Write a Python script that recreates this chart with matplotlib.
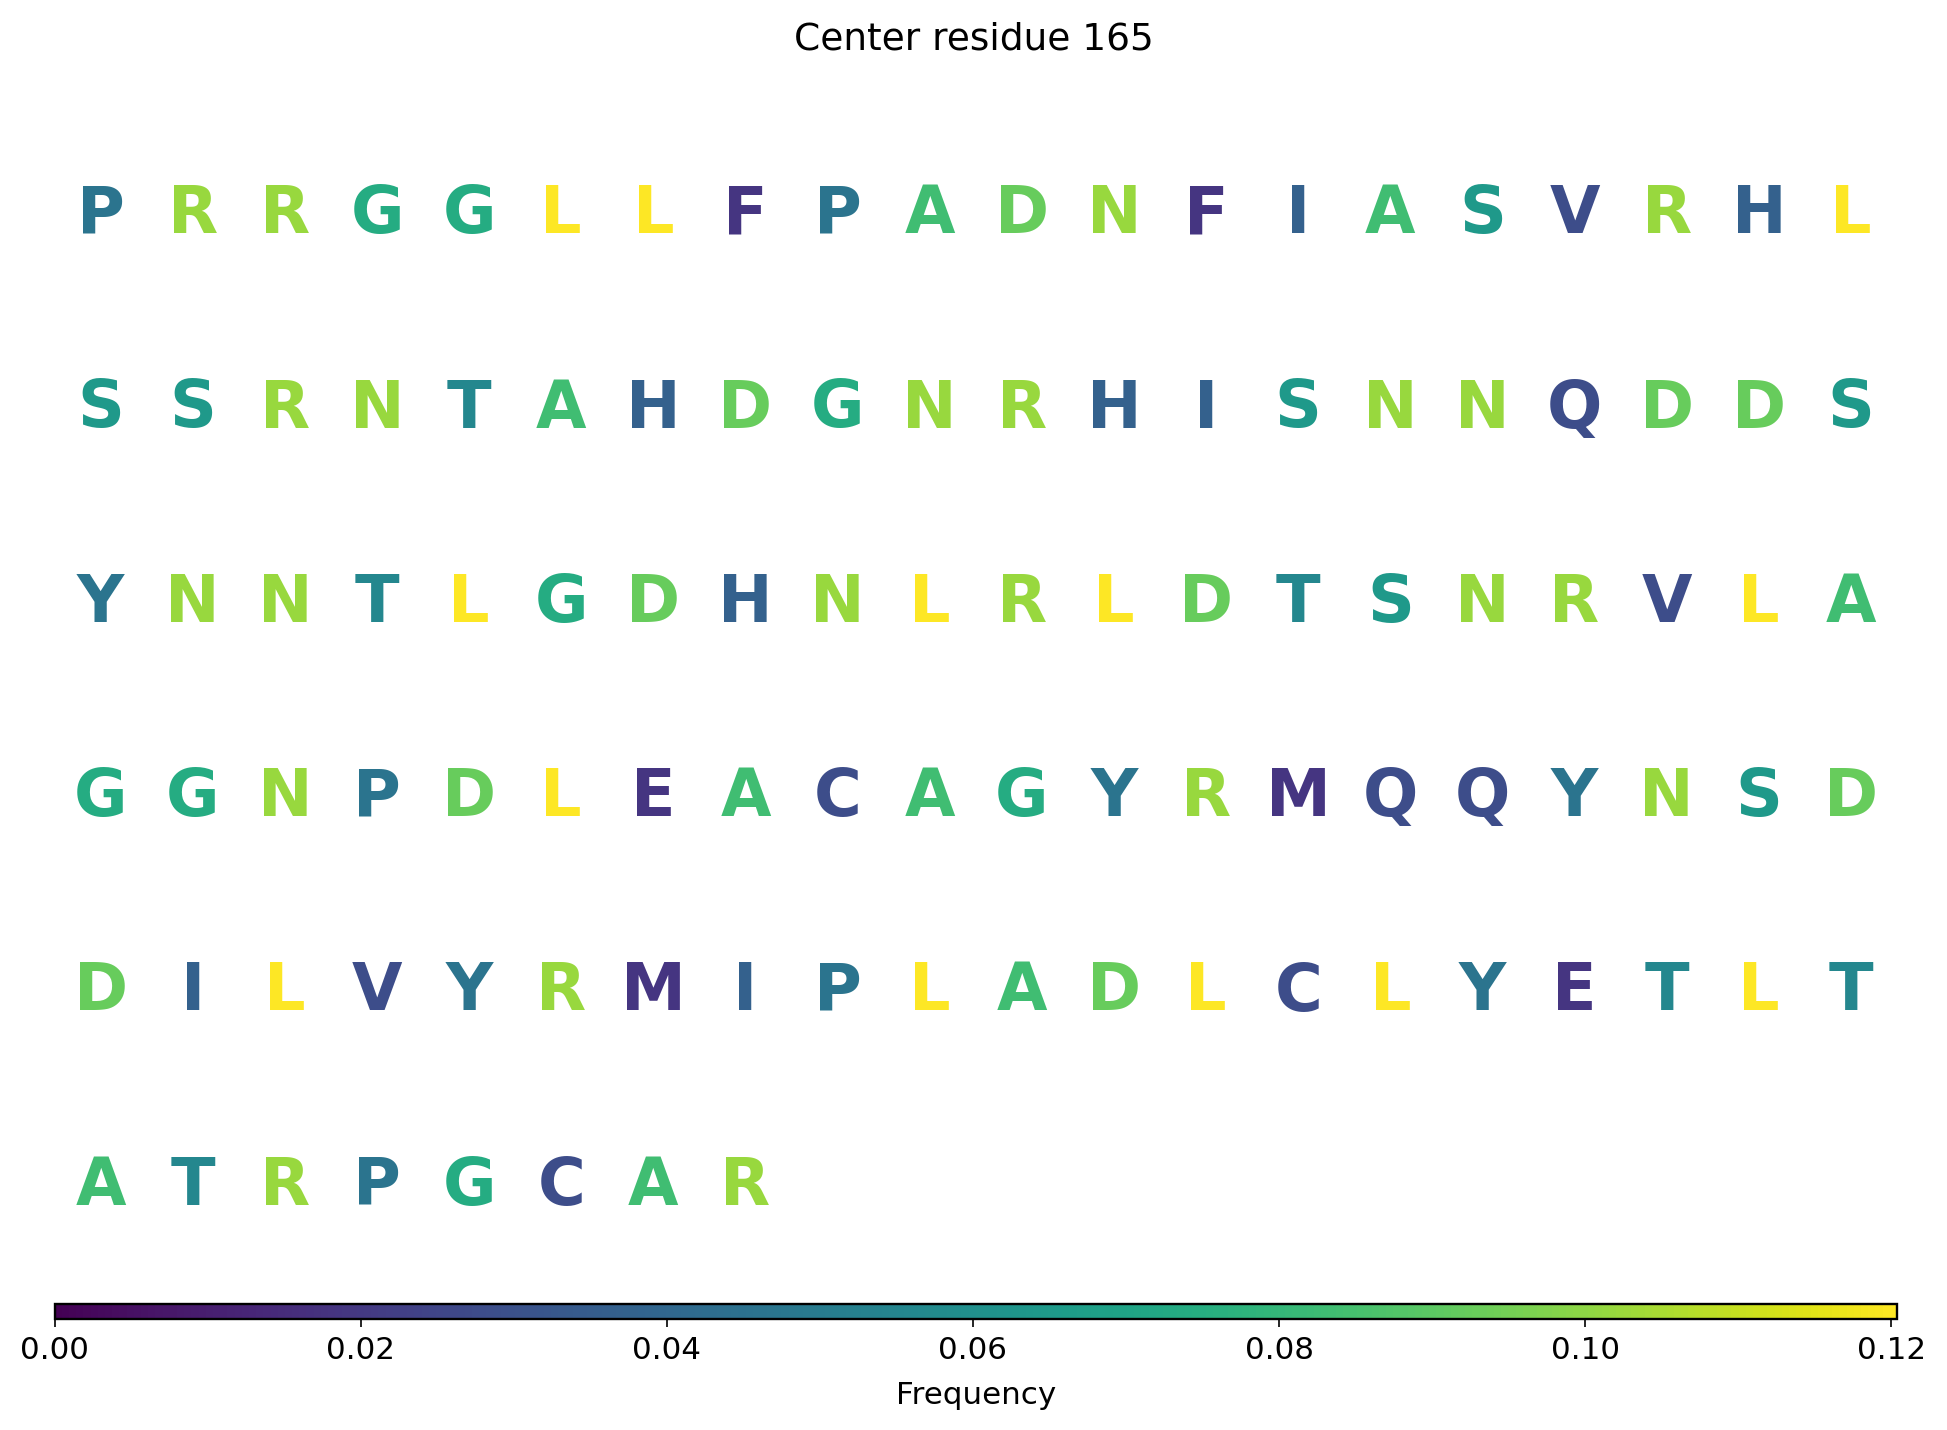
import numpy as np
import matplotlib
matplotlib.use("Agg")
import matplotlib.pyplot as plt
from matplotlib import cm, colors
from collections import Counter

plt.close('all')

# sequence window around residue 165, written row by row as in the picture
rows = [
    "PRRGGLLFPADNFIASVRHL",
    "SSRNTAHDGNRHISNNQDDS",
    "YNNTLGDHNLRLDTSNRVLA",
    "GGNPDLEACAGYRMQQYNSD",
    "DILVYRMIPLADLCLYETLT",
    "ATRPGCAR",
]
title = "Center residue 165"
cbar_ticks = [0.00, 0.02, 0.04, 0.06, 0.08, 0.10, 0.12]

seq = "".join(rows)
counts = Counter(seq)
freq = {aa: n / len(seq) for aa, n in counts.items()}

W, H = 1947, 1430
fig = plt.figure(figsize=(W / 100, H / 100), dpi=100)

ax = fig.add_axes([54.6 / W, (H - 1284) / H, 1842.4 / W, (1284 - 118) / H])
ax.set_xlim(-0.5, 19.5)
ax.set_ylim(len(rows) - 0.5, -0.5)
ax.axis('off')

norm = colors.Normalize(vmin=0, vmax=max(freq.values()))
cmap = plt.get_cmap('viridis')

for r, row in enumerate(rows):
    for c, aa in enumerate(row):
        ax.text(c, r, aa, ha='center', va='center', fontsize=47,
                fontweight='bold', color=cmap(norm(freq[aa])))

fig.text(0.5, 1 - 40 / H, title, ha='center', va='center', fontsize=27)

cax = fig.add_axes([54.6 / W, (H - 1319) / H, 1842.4 / W, 15 / H])
sm = cm.ScalarMappable(norm=norm, cmap=cmap)
cb = fig.colorbar(sm, cax=cax, orientation='horizontal')
cb.set_ticks(cbar_ticks)
cb.ax.tick_params(labelsize=22.3, length=5.8, width=1.2, pad=6.3)
cb.outline.set_linewidth(1.7)
cb.set_label('Frequency', fontsize=22.3, labelpad=12)

fig.savefig('out.png', dpi=100)
